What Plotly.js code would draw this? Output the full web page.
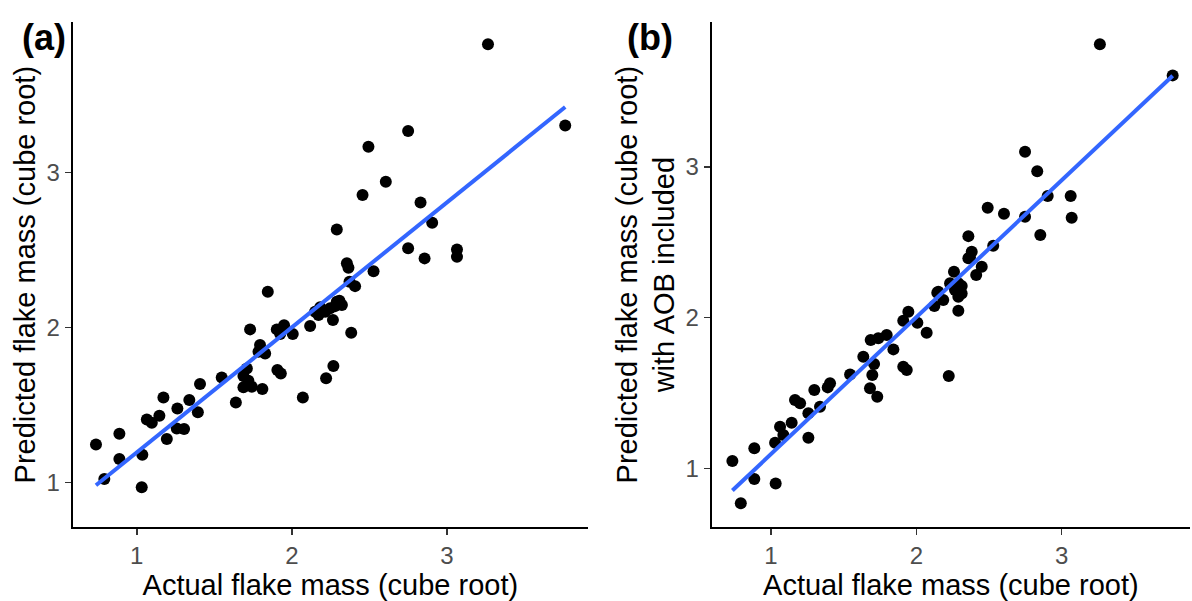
<!DOCTYPE html>
<html>
<head>
<meta charset="utf-8">
<script src="https://cdn.plot.ly/plotly-3.0.1.min.js"></script>
<style>html,body{margin:0;padding:0;background:#fff;}#chart{width:1192px;height:601px;}</style>
</head>
<body>
<div id="chart"></div>
<script>
// Panel (a): actual vs predicted (cube root)
var aActual = [3.265,3.763,2.750,2.494,2.606,2.456,2.830,2.290,2.905,2.750,2.856,3.065,3.065,2.355,2.365,2.527,2.372,2.408,1.845,2.290,2.150,2.183,2.215,2.247,2.279,2.307,2.323,2.172,2.265,2.118,2.383,1.731,1.903,1.950,1.925,2.006,1.795,1.785,1.828,2.268,2.221,1.907,1.929,2.071,1.710,1.688,1.720,1.688,1.742,1.810,1.639,1.548,1.408,1.339,1.394,1.172,1.262,1.146,1.065,1.097,1.258,1.305,1.194,0.888,0.737,0.888,1.036,0.791,1.032];
var aPredicted = [3.826,3.303,3.266,3.165,2.939,2.854,2.806,2.632,2.675,2.510,2.445,2.503,2.456,2.413,2.385,2.362,2.294,2.266,2.230,2.165,2.101,2.129,2.101,2.123,2.137,2.172,2.144,2.079,2.047,2.008,1.965,1.987,1.987,2.013,1.957,1.957,1.886,1.843,1.832,1.750,1.671,1.725,1.703,1.548,1.735,1.686,1.656,1.613,1.617,1.602,1.516,1.677,1.634,1.531,1.452,1.548,1.477,1.430,1.406,1.385,1.348,1.344,1.279,1.314,1.245,1.150,1.178,1.021,0.968];

// Panel (b): actual vs predicted with AOB included
var bActual = [3.263,3.764,2.748,2.832,2.904,3.062,3.069,2.491,2.603,2.748,2.853,2.358,2.529,2.381,2.369,2.358,2.450,2.259,2.412,2.232,2.312,2.289,2.289,2.266,2.144,2.185,2.124,1.945,1.910,2.007,2.071,1.686,1.738,1.796,1.842,1.635,1.709,1.697,1.910,1.934,2.223,1.544,1.681,1.731,1.406,1.390,1.298,1.165,1.200,1.337,1.257,1.142,1.062,1.085,1.028,1.257,0.885,0.734,0.885,1.032,0.792,2.289,2.312,2.151];
var bPredicted = [3.812,3.606,3.100,2.971,2.806,2.806,2.662,2.728,2.688,2.668,2.547,2.540,2.476,2.436,2.399,2.393,2.337,2.304,2.282,2.227,2.209,2.138,2.045,2.182,2.164,2.116,2.076,2.039,1.979,1.966,1.899,1.851,1.862,1.884,1.789,1.740,1.692,1.619,1.674,1.652,1.612,1.623,1.531,1.475,1.564,1.537,1.519,1.453,1.431,1.409,1.365,1.302,1.276,1.221,1.170,1.203,1.133,1.048,0.929,0.900,0.768,2.227,2.160,2.171];

var tickVals = [1, 2, 3];
var tickText = ['1', '2', '3'];
var panelLabels = ['(a)', '(b)'];
var xTitle = 'Actual flake mass (cube root)';
var yTitleA = 'Predicted flake mass (cube root)';
var yTitleB = 'Predicted flake mass (cube root)<br>with AOB included';

function linFit(x, y) {
  var n = x.length, sx = 0, sy = 0, sxx = 0, sxy = 0;
  for (var i = 0; i < n; i++) { sx += x[i]; sy += y[i]; sxx += x[i]*x[i]; sxy += x[i]*y[i]; }
  var b = (n*sxy - sx*sy) / (n*sxx - sx*sx);
  var a = (sy - b*sx) / n;
  var x0 = Math.min.apply(null, x), x1 = Math.max.apply(null, x);
  return {x: [x0, x1], y: [a + b*x0, a + b*x1]};
}
var fitA = linFit(aActual, aPredicted);
var fitB = linFit(bActual, bPredicted);

var font = 'Liberation Sans, Arial, Helvetica, sans-serif';
var markerStyle = {color: '#000000', size: 12};
var lineStyle = {color: '#3366FF', width: 4};

var traces = [
  {x: aActual, y: aPredicted, type: 'scatter', mode: 'markers', marker: markerStyle, xaxis: 'x', yaxis: 'y'},
  {x: fitA.x, y: fitA.y, type: 'scatter', mode: 'lines', line: lineStyle, xaxis: 'x', yaxis: 'y'},
  {x: bActual, y: bPredicted, type: 'scatter', mode: 'markers', marker: markerStyle, xaxis: 'x2', yaxis: 'y2'},
  {x: fitB.x, y: fitB.y, type: 'scatter', mode: 'lines', line: lineStyle, xaxis: 'x2', yaxis: 'y2'}
];

function axis(domain, range, anchor, title, standoff) {
  return {
    domain: domain, range: range, anchor: anchor,
    showgrid: false, zeroline: false,
    showline: true, linecolor: '#000000', linewidth: 2,
    ticks: 'outside', ticklen: 6, tickwidth: 1.5, tickcolor: '#333333',
    tickvals: tickVals, ticktext: tickText,
    tickfont: {family: font, size: 24, color: '#4d4d4d'},
    title: {text: title, font: {family: font, size: 29, color: '#000000'}, standoff: standoff},
    fixedrange: true
  };
}

var layout = {
  width: 1192, height: 601,
  margin: {l: 0, r: 0, t: 0, b: 0},
  paper_bgcolor: '#ffffff', plot_bgcolor: '#ffffff',
  showlegend: false,
  xaxis: axis([0.061, 0.4933], [0.587, 3.91], 'y', xTitle, 0),
  yaxis: axis([0.1226, 0.9634], [0.71, 3.97], 'x', yTitleA, 2),
  xaxis2: axis([0.5971, 0.9983], [0.592, 3.883], 'y2', xTitle, 0),
  yaxis2: axis([0.1226, 0.9634], [0.609, 3.960], 'x2', yTitleB, 2),
  annotations: [
    {text: '<b>' + panelLabels[0] + '</b>', xref: 'paper', yref: 'paper', x: 44/1192, y: 1 - 38/601, xanchor: 'center', yanchor: 'middle', showarrow: false, font: {family: font, size: 36, color: '#000000'}},
    {text: '<b>' + panelLabels[1] + '</b>', xref: 'paper', yref: 'paper', x: 650/1192, y: 1 - 38/601, xanchor: 'center', yanchor: 'middle', showarrow: false, font: {family: font, size: 36, color: '#000000'}}
  ]
};

Plotly.newPlot('chart', traces, layout, {displayModeBar: false, staticPlot: true});
</script>
</body>
</html>
